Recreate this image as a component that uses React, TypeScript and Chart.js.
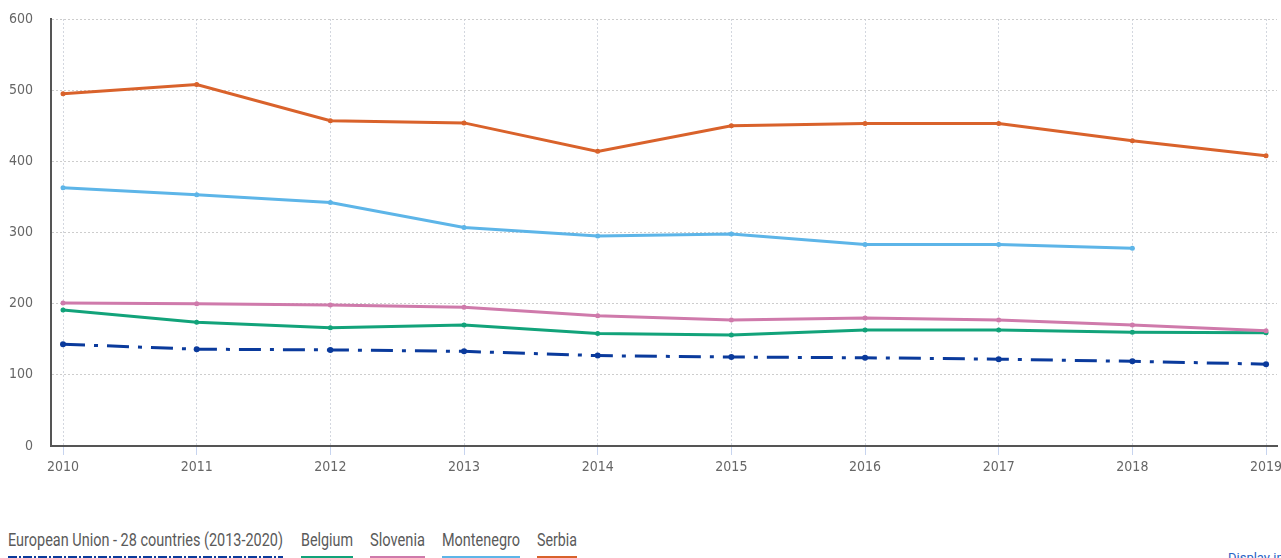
import React, { useEffect, useRef } from "react";
import { Chart, registerables } from "chart.js";

Chart.register(...registerables);

const years = [2010, 2011, 2012, 2013, 2014, 2015, 2016, 2017, 2018, 2019];
const yTicks = [0, 100, 200, 300, 400, 500, 600];

const euValues = [143, 136, 135, 133, 127, 125, 124, 122, 119, 115];
const belgiumValues = [191, 174, 166, 170, 158, 156, 163, 163, 160, 159];
const sloveniaValues = [201, 200, 198, 195, 183, 177, 180, 177, 170, 162];
const montenegroValues = [363, 353, 342, 307, 295, 298, 283, 283, 278, null];
const serbiaValues = [495, 508, 457, 454, 414, 450, 453, 453, 429, 408];

const seriesNames = [
  "European Union - 28 countries (2013-2020)",
  "Belgium",
  "Slovenia",
  "Montenegro",
  "Serbia",
];
const seriesColors = ["#0a3a9c", "#12a37a", "#cf7aab", "#5db5e8", "#d9622b"];

const legendLeft = [8, 301, 370, 442, 537];
const legendWidth = [275, 52, 55, 78, 40];

const TICK_FONT = "'DejaVu Sans Condensed', 'Roboto', sans-serif";
const LEGEND_FONT = "Roboto, sans-serif";

function measure(text: string, font: string) {
  const c = document.createElement("canvas").getContext("2d");
  if (!c) return text.length * 8;
  c.font = font;
  return c.measureText(text).width;
}

export default function App() {
  const ref = useRef<HTMLCanvasElement>(null);

  useEffect(() => {
    if (!ref.current) return;
    const all = [euValues, belgiumValues, sloveniaValues, montenegroValues, serbiaValues];
    const datasets = all.map((vals, i) => ({
      label: seriesNames[i],
      data: years.map((y, j) => ({ x: y, y: vals[j] })).filter((p) => p.y !== null),
      borderColor: seriesColors[i],
      backgroundColor: seriesColors[i],
      borderWidth: 3,
      borderDash: i === 0 ? [22, 9, 4, 9] : [],
      pointRadius: i === 0 ? 3 : 2.5,
      pointBorderWidth: 0,
      tension: 0,
    }));
    const chart = new Chart(ref.current, {
      type: "line",
      data: { datasets: datasets.reverse() as any },
      options: {
        animation: false,
        responsive: false,
        maintainAspectRatio: false,
        layout: { padding: { top: 19, right: 0, left: 0, bottom: 0 } },
        plugins: { legend: { display: false }, tooltip: { enabled: false } },
        scales: {
          x: {
            type: "linear",
            min: 2009.91,
            max: 2019.082,
            afterBuildTicks: (s: any) => {
              s.ticks = years.map((v) => ({ value: v }));
            },
            afterFit: (s: any) => {
              s.height = 44;
              s.paddingLeft = 0;
              s.paddingRight = 0;
            },
            ticks: {
              color: "#666",
              font: { family: TICK_FONT, size: 14 },
              padding: 4,
              maxRotation: 0,
              callback: (v: any) => String(v),
            },
            grid: {
              color: "#d3d7df",
              tickLength: 9,
              tickColor: "#c7d4ef",
              tickBorderDash: [],
              lineWidth: 1,
            } as any,
            border: { color: "#555", width: 2, dash: [2, 2] } as any,
          },
          y: {
            min: 0,
            max: 600,
            afterBuildTicks: (s: any) => {
              s.ticks = yTicks.map((v) => ({ value: v }));
            },
            afterFit: (s: any) => {
              s.width = 51;
              s.paddingTop = 0;
              s.paddingBottom = 0;
            },
            ticks: {
              color: "#666",
              font: { family: TICK_FONT, size: 14 },
              padding: 18,
            },
            grid: {
              color: "#cdcdcd",
              tickLength: 0,
              lineWidth: 1,
            } as any,
            border: { color: "#555", width: 2, dash: [2, 2] } as any,
          },
        },
      },
    });
    return () => chart.destroy();
  }, []);

  return (
    <div
      style={{
        position: "fixed",
        left: 0,
        top: 0,
        width: 1281,
        height: 558,
        background: "#fff",
        overflow: "hidden",
        fontFamily: LEGEND_FONT,
      }}
    >
      <canvas ref={ref} width={1281} height={490} style={{ display: "block" }} />
      {seriesNames.map((n, i) => {
        const w = measure(n, `18px ${LEGEND_FONT}`);
        const sx = legendWidth[i] / w;
        return (
          <div
            key={n}
            style={{ position: "absolute", left: legendLeft[i], top: 529, width: legendWidth[i] }}
          >
            <div
              style={{
                fontSize: 18,
                lineHeight: "22px",
                color: "#5a5a5a",
                whiteSpace: "nowrap",
                transform: `scaleX(${sx})`,
                transformOrigin: "left center",
              }}
            >
              {n}
            </div>
            <div
              style={{
                marginTop: 5,
                height: 3,
                width: legendWidth[i],
                background:
                  i === 0
                    ? `repeating-linear-gradient(90deg, ${seriesColors[0]} 0 9px, transparent 9px 11px, ${seriesColors[0]} 11px 13px, transparent 13px 15px)`
                    : seriesColors[i],
              }}
            />
          </div>
        );
      })}
      <div
        style={{
          position: "absolute",
          left: 1228,
          top: 550,
          fontSize: 13,
          color: "#2a64c5",
          whiteSpace: "nowrap",
        }}
      >
        Display in
      </div>
    </div>
  );
}
